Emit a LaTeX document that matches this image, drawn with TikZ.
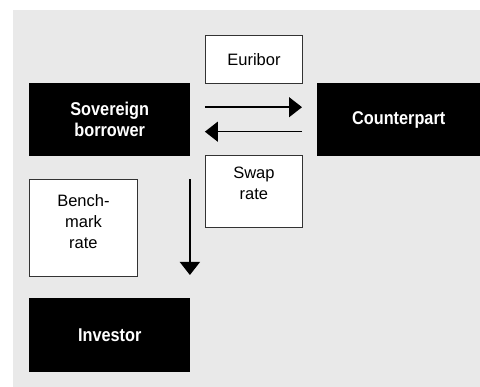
\documentclass[tikz,border=0pt]{standalone}
\usepackage{fontspec}
\setmainfont{Liberation Sans}
\newfontfamily\boxfont[FakeStretch=0.88]{Liberation Sans}
\usetikzlibrary{arrows.meta}
\definecolor{bggray}{HTML}{E9E9E9}
\definecolor{edgegray}{HTML}{333333}
\tikzset{
  blackbox/.style={fill=black, draw=none, text=white, font=\boxfont\fontsize{18.5}{21}\selectfont\bfseries, align=center, inner sep=0pt, anchor=north west},
  whitebox/.style={fill=white, draw=edgegray, line width=0.9pt, text=black, font=\fontsize{16.5}{21}\selectfont, align=center, inner sep=0pt, anchor=north west},
  flow/.style={line width=1.4pt, -{Triangle[length=13pt,width=20pt]}}
}
\begin{document}
\begin{tikzpicture}[x=1pt,y=-1pt]
\useasboundingbox (0,0) rectangle (480,387);
\fill[bggray] (13,10) rectangle (480,387);
\node[blackbox, minimum width=161pt, minimum height=73pt] (sov) at (29,83) {Sovereign\\borrower};
\node[blackbox, minimum width=163pt, minimum height=73pt] (cp) at (317,83) {Counterpart};
\node[whitebox, minimum width=97pt, minimum height=48pt] (eur) at (205,35) {Euribor};
\node[whitebox, minimum width=97pt, minimum height=72pt] (swap) at (205,155) {Swap\\rate\\[-4pt]};
\node[whitebox, minimum width=108pt, minimum height=97pt] (bench) at (29,179) {Bench-\\mark\\rate\\[-8pt]};
\node[blackbox, minimum width=161pt, minimum height=74pt] (inv) at (29,298) {Investor};
\draw[flow, shorten <=14.5pt, shorten >=15pt] ([yshift=12.5pt]sov.east) -- ([yshift=12.5pt]cp.west);
\draw[flow, shorten <=15pt, shorten >=14.5pt] ([yshift=-12pt]cp.west) -- ([yshift=-12pt]sov.east);
\draw[flow, shorten <=23pt, shorten >=23pt] ([xshift=-0.5pt]sov.south east) -- ([xshift=-0.5pt]inv.north east);
\end{tikzpicture}
\end{document}
